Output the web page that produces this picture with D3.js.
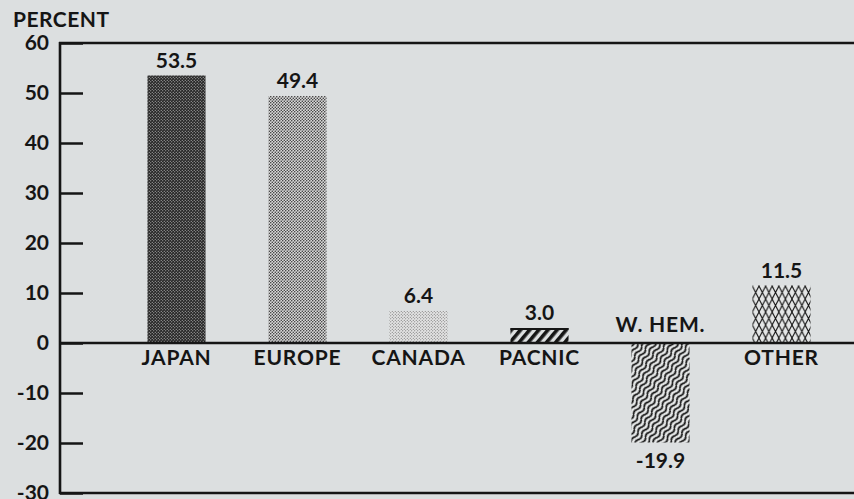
<!DOCTYPE html>
<html>
<head>
<meta charset="utf-8">
<script src="https://cdn.jsdelivr.net/npm/d3@7"></script>
<style>
  html, body { margin: 0; padding: 0; background: #dcdfe0; }
  svg { display: block; font-family: Lato, "Open Sans", sans-serif; font-weight: bold; }
</style>
</head>
<body>
<div id="chart"></div>
<script>
// data
const regions = ["JAPAN", "EUROPE", "CANADA", "PACNIC", "W. HEM.", "OTHER"];
const values = [53.5, 49.4, 6.4, 3.0, -19.9, 11.5];
const fills = ["japan", "europe", "canada", "pacnic", "whem", "other"];
const yTicks = [60, 50, 40, 30, 20, 10, 0, -10, -20, -30];

// config
const width = 854;
const height = 499;
const ink = "#151515";
const fontSize = "21px";

const svg = d3.select("#chart")
  .append("svg")
  .attr("width", width)
  .attr("height", height);

const x = d3.scaleBand()
  .domain(regions)
  .range([116, 842])
  .paddingInner(0.52)
  .paddingOuter(0.26);

const y = d3.scaleLinear()
  .domain([-30, 60])
  .range([493, 43]);

// patterns
const defs = svg.append("defs");

const dots = (id, bg, fg, r) => {
  const p = defs.append("pattern")
    .attr("id", id)
    .attr("patternUnits", "userSpaceOnUse")
    .attr("width", 3).attr("height", 3);
  p.append("rect").attr("width", 3).attr("height", 3).attr("fill", bg);
  p.append("circle").attr("cx", 0.75).attr("cy", 0.75).attr("r", r).attr("fill", fg);
  p.append("circle").attr("cx", 2.25).attr("cy", 2.25).attr("r", r).attr("fill", fg);
};
dots("japan", "#262626", "#d0d0d0", 0.55);
dots("europe", "#dadada", "#2a2a2a", 0.75);
dots("canada", "#e4e4e4", "#5a5a5a", 0.5);

const stripes = defs.append("pattern")
  .attr("id", "pacnic")
  .attr("patternUnits", "userSpaceOnUse")
  .attr("width", 7).attr("height", 7)
  .attr("patternTransform", "rotate(40)");
stripes.append("rect").attr("width", 7).attr("height", 7).attr("fill", "#dcdfe0");
stripes.append("rect").attr("width", 3.6).attr("height", 7).attr("fill", ink);

const wave = defs.append("pattern")
  .attr("id", "whem")
  .attr("patternUnits", "userSpaceOnUse")
  .attr("width", 12).attr("height", 4.6)
  .attr("patternTransform", "rotate(-55)");
wave.append("rect").attr("width", 12).attr("height", 4.6).attr("fill", "#e6e8e8");
wave.append("path")
  .attr("d", "M0,2.3 Q3,0 6,2.3 T12,2.3")
  .attr("fill", "none")
  .attr("stroke", ink)
  .attr("stroke-width", 1.7);

const mesh = defs.append("pattern")
  .attr("id", "other")
  .attr("patternUnits", "userSpaceOnUse")
  .attr("width", 6.6).attr("height", 13);
mesh.append("rect").attr("width", 6.6).attr("height", 13).attr("fill", "#e4e6e6");
mesh.append("path")
  .attr("d", "M0,0 L6.6,13 M6.6,0 L0,13")
  .attr("stroke", ink)
  .attr("stroke-width", 1.1);

// bars
const rows = regions.map((r, i) => ({region: r, value: values[i], fill: fills[i]}));

svg.append("g").selectAll("rect")
  .data(rows)
  .enter().append("rect")
  .attr("x", d => x(d.region))
  .attr("y", d => y(Math.max(0, d.value)))
  .attr("width", x.bandwidth())
  .attr("height", d => Math.abs(y(d.value) - y(0)))
  .attr("fill", d => "url(#" + d.fill + ")");

// top edge of the pacnic bar
svg.append("line")
  .attr("x1", x("PACNIC")).attr("x2", x("PACNIC") + x.bandwidth())
  .attr("y1", y(3.0) + 1).attr("y2", y(3.0) + 1)
  .attr("stroke", ink).attr("stroke-width", 2);

// y axis
const yAxis = svg.append("g")
  .attr("transform", "translate(60,0)")
  .call(d3.axisLeft(y).tickValues(yTicks).tickSize(-23).tickPadding(11).tickFormat(d => String(d)));
yAxis.select(".domain").remove();
yAxis.selectAll(".tick line").attr("stroke", ink).attr("stroke-width", 2.5);
yAxis.selectAll(".tick text")
  .attr("fill", ink)
  .style("font-size", fontSize)
  .style("font-family", "Lato, sans-serif")
  .style("font-weight", "bold");

svg.append("line")
  .attr("x1", 60).attr("x2", 60)
  .attr("y1", y(60) - 1).attr("y2", y(-30) + 1)
  .attr("stroke", ink).attr("stroke-width", 2.6);

[60, 0, -30].forEach(v => {
  svg.append("line")
    .attr("x1", 59).attr("x2", width)
    .attr("y1", y(v)).attr("y2", y(v))
    .attr("stroke", ink).attr("stroke-width", 2.4);
});

// labels
svg.append("g").selectAll("text")
  .data(rows)
  .enter().append("text")
  .attr("x", d => x(d.region) + x.bandwidth() / 2)
  .attr("y", d => d.value >= 0 ? y(0) + 22 : y(0) - 11)
  .attr("text-anchor", "middle")
  .attr("fill", ink)
  .style("font-size", fontSize)
  .style("letter-spacing", "0.8px")
  .text(d => d.region);

svg.append("g").selectAll("text")
  .data(rows)
  .enter().append("text")
  .attr("x", d => x(d.region) + x.bandwidth() / 2)
  .attr("y", d => d.value >= 0 ? y(d.value) - 8 : y(d.value) + 25)
  .attr("text-anchor", "middle")
  .attr("fill", ink)
  .style("font-size", fontSize)
  .text(d => d.value.toFixed(1));

svg.append("text")
  .attr("x", 13)
  .attr("y", 27)
  .attr("fill", ink)
  .style("font-size", fontSize)
  .style("letter-spacing", "0.5px")
  .text("PERCENT");
</script>
</body>
</html>
